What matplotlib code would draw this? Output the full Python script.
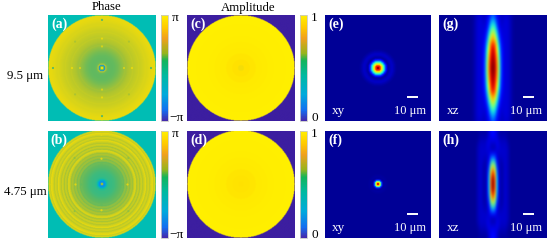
import numpy as np
import matplotlib
matplotlib.use('Agg')
import matplotlib.pyplot as plt
from matplotlib.cm import ScalarMappable
from matplotlib.colors import LinearSegmentedColormap, Normalize

W, H = 550, 242
plt.rcParams['font.family'] = ['Liberation Serif', 'DejaVu Serif']

# radial profiles of the phase masks (rad), one value per pixel of radius
PHASE_A = [2.9, 2.5, 0.3, -1.6, 1.6, 0.7, 0.45, 0.4, 0.4, 0.4, 0.4, 0.4, 0.42, 0.45, 0.5, 0.55, 0.6, 0.68,
           0.75, 0.82, 0.9, 0.98, 1.05, 1.2, 1.12, 1.2, 1.28, 1.35, 1.4, 1.45, 1.5, 1.65, 1.55, 1.6, 1.65, 1.7,
           1.72, 1.85, 1.78, 1.82, 1.88, 1.92, 1.98, 2.02, 2.1, 2.05, 2.1, 2.15, 2.2, 2.22, 2.28, 2.3, 2.32, 2.35, 2.35]
PHASE_B = [1.2, 1.0, -1.6, -1.5, -0.9, -0.3, -0.1, -0.05, 0.0, 0.0, 0.0, 0.05, 0.05, 0.1, 0.15, 0.2, 0.25, 0.3,
           0.35, 0.4, 0.5, 0.55, 0.45, 0.9, 1.0, 0.7, 1.1, 1.2, 0.85, 1.25, 1.35, 1.05, 1.6, 2.05, 2.1, 1.15, 1.6, 1.8,
           1.15, 1.8, 1.9, 1.35, 1.75, 2.0, 2.35, 1.45, 1.85, 2.0, 1.45, 1.95, 2.15, 2.4, 1.65, 2.05, 2.2]
PHASE_BG = -0.5

# amplitude masks, one value every 6 pixels of radius
AMP_C = [0.9, 0.93, 0.95, 0.97, 0.98, 0.985, 0.99, 0.99, 0.995, 1.0]
AMP_D = [0.93, 0.94, 0.95, 0.97, 0.98, 0.985, 0.99, 0.99, 0.995, 1.0]
AMP_BG = 0.0

# spots on the axes and diagonals of the phase masks: radius, value
SPOT_R_A = [49, 30, 22, 38]
SPOT_V_A = [0.3, 2.3, 2.0, 1.3]
SPOT_R_B = [50, 26, 20, 38]
SPOT_V_B = [2.2, 2.2, 0.4, 1.0]
SPOT_ANG_A = [[0, 90, 180, 270], [0, 90, 180, 270], [0, 90, 180, 270], [45, 135, 225, 315]]
SPOT_ANG_B = [[0, 90, 180, 270], [0, 90, 180, 270], [0, 90, 180, 270], [45, 135, 225, 315]]

# focal spots in the xy plane, one value per pixel of radius
XY_E = [1.0, 0.96, 0.88, 0.78, 0.66, 0.54, 0.42, 0.3, 0.19, 0.11, 0.05, 0.035, 0.045, 0.055, 0.06, 0.06, 0.05, 0.04, 0.03]
XY_F = [1.0, 0.85, 0.66, 0.4, 0.18, 0.06, 0.025, 0.03, 0.03, 0.025]
XY_BG_E = 0.02
XY_BG_F = 0.02

# focal spots in the xz plane: rows every 6 px along z, columns every 2 px along x
XZ_G = [[1.0, 0.95, 0.78, 0.5, 0.22, 0.11, 0.08, 0.08, 0.07, 0.05, 0.03, 0.02, 0.02],
        [0.98, 0.93, 0.76, 0.48, 0.22, 0.11, 0.08, 0.08, 0.07, 0.05, 0.03, 0.02, 0.02],
        [0.96, 0.9, 0.72, 0.44, 0.2, 0.11, 0.08, 0.08, 0.07, 0.05, 0.03, 0.02, 0.02],
        [0.93, 0.86, 0.66, 0.38, 0.18, 0.11, 0.08, 0.08, 0.07, 0.05, 0.03, 0.02, 0.02],
        [0.88, 0.8, 0.58, 0.32, 0.16, 0.1, 0.08, 0.08, 0.07, 0.05, 0.03, 0.02, 0.02],
        [0.72, 0.65, 0.44, 0.24, 0.13, 0.09, 0.08, 0.08, 0.07, 0.05, 0.03, 0.02, 0.02],
        [0.58, 0.5, 0.33, 0.17, 0.1, 0.08, 0.08, 0.08, 0.07, 0.05, 0.03, 0.02, 0.02],
        [0.42, 0.36, 0.22, 0.12, 0.08, 0.08, 0.08, 0.08, 0.07, 0.05, 0.03, 0.02, 0.02],
        [0.3, 0.25, 0.16, 0.1, 0.07, 0.07, 0.08, 0.08, 0.07, 0.05, 0.03, 0.02, 0.02],
        [0.2, 0.17, 0.12, 0.08, 0.06, 0.06, 0.07, 0.07, 0.06, 0.04, 0.03, 0.02, 0.02]]
XZ_H = [[1.0, 0.82, 0.32, 0.08, 0.04, 0.05, 0.07, 0.06, 0.04, 0.02, 0.02, 0.02, 0.02],
        [0.97, 0.8, 0.31, 0.08, 0.04, 0.05, 0.07, 0.06, 0.04, 0.02, 0.02, 0.02, 0.02],
        [0.85, 0.68, 0.26, 0.08, 0.04, 0.05, 0.07, 0.06, 0.04, 0.02, 0.02, 0.02, 0.02],
        [0.6, 0.48, 0.18, 0.07, 0.04, 0.05, 0.07, 0.06, 0.04, 0.02, 0.02, 0.02, 0.02],
        [0.33, 0.26, 0.11, 0.06, 0.05, 0.06, 0.07, 0.06, 0.04, 0.02, 0.02, 0.02, 0.02],
        [0.12, 0.11, 0.08, 0.07, 0.07, 0.07, 0.07, 0.06, 0.04, 0.02, 0.02, 0.02, 0.02],
        [0.04, 0.05, 0.08, 0.08, 0.07, 0.07, 0.07, 0.06, 0.04, 0.02, 0.02, 0.02, 0.02],
        [0.08, 0.08, 0.09, 0.08, 0.06, 0.06, 0.06, 0.05, 0.03, 0.02, 0.02, 0.02, 0.02],
        [0.12, 0.1, 0.08, 0.05, 0.04, 0.04, 0.04, 0.03, 0.02, 0.02, 0.02, 0.02, 0.02],
        [0.14, 0.11, 0.07, 0.04, 0.03, 0.03, 0.03, 0.03, 0.02, 0.02, 0.02, 0.02, 0.02]]

IMAGE_COLORS = [(0, '#3c1ea0'), (0.15, '#146ef0'), (0.3, '#00a5e1'), (0.42, '#00beb4'), (0.55, '#5ab964'),
                (0.7, '#aac332'), (0.85, '#e1d714'), (0.93, '#ffe100'), (1, '#fff000')]
BAR_COLORS = [(0, '#4628aa'), (0.1, '#146ef0'), (0.25, '#00aadc'), (0.43, '#00b9a0'), (0.57, '#14b45a'),
              (0.64, '#96b41e'), (0.78, '#f0a01e'), (0.88, '#ffc800'), (1, '#fff000')]
image_cmap = LinearSegmentedColormap.from_list('mask', IMAGE_COLORS)
bar_cmap = LinearSegmentedColormap.from_list('bar', BAR_COLORS)
phase_norm = Normalize(-np.pi, np.pi)
amp_norm = Normalize(0, 1)
xy_norm = Normalize(0, 1)


# axes from reference pixels, y measured from the top
def pixel_axes(fig, x0, y0, x1, y1):
    ax = fig.add_axes([x0 / W, 1 - y1 / H, (x1 - x0) / W, (y1 - y0) / H])
    ax.set_xticks([])
    ax.set_yticks([])
    for spine in ax.spines.values():
        spine.set_visible(False)
    return ax


def pixel_text(fig, x, y, s, **kwargs):
    kwargs.setdefault('ha', 'center')
    kwargs.setdefault('va', 'center')
    kwargs.setdefault('fontsize', 9.5)
    fig.text(x / W, 1 - y / H, s, **kwargs)


# rotate a radial profile around the centre, step is the pixels between values
def radial_image(profile, step, radius, background):
    axis = np.arange(-radius, radius + 0.5, 0.5)
    xx, yy = np.meshgrid(axis, axis)
    rr = np.hypot(xx, yy)
    idx = np.clip(np.round(rr / step).astype(int), 0, len(profile) - 1)
    img = np.array(profile)[idx]
    img[rr > len(profile) * step] = background
    return img


def mask_panel(fig, box, profile, step, background, cmap, norm, label):
    ax = pixel_axes(fig, *box)
    img = radial_image(profile, step, 54, background)
    img[np.hypot(*np.meshgrid(np.arange(-54, 54.5, 0.5), np.arange(-54, 54.5, 0.5))) > 54] = background
    ax.imshow(img, cmap=cmap, norm=norm, extent=[-54, 54, -54, 54], interpolation='bilinear', aspect='auto')
    ax.set_xlim(-54, 54)
    ax.set_ylim(-54, 54)
    ax.text(-51, 45, label, color='white', fontsize=10, fontweight='bold', ha='left', va='center')
    return ax


def color_bar(fig, box, norm, top_label, bottom_label):
    cax = pixel_axes(fig, *box)
    cb = fig.colorbar(ScalarMappable(norm=norm, cmap=bar_cmap), cax=cax)
    cb.set_ticks([])
    cb.outline.set_edgecolor('#c8c8c8')
    cb.outline.set_linewidth(0.6)
    pixel_text(fig, box[2] + 7, box[1] + 3, top_label)
    pixel_text(fig, box[2] + 8, box[3] - 3, bottom_label)


def focus_labels(ax, label, plane):
    ax.text(-51, 45, label, color='white', fontsize=10, fontweight='bold', ha='left', va='center')
    ax.text(-40, -44, plane, color='white', fontsize=9.5, ha='center', va='center')
    ax.text(33, -44, '10 \u03bcm', color='white', fontsize=9, ha='center', va='center')
    ax.plot([30, 41], [-30, -30], color='white', lw=1.4, solid_capstyle='butt')
    ax.set_xlim(-54, 54)
    ax.set_ylim(-54, 54)


def xy_panel(fig, box, profile, background, label):
    ax = pixel_axes(fig, *box)
    img = radial_image(profile, 1, 54, background)
    ax.imshow(img, cmap='jet', norm=xy_norm, extent=[-54, 54, -54, 54], interpolation='bilinear', aspect='auto')
    focus_labels(ax, label, 'xy')


def xz_panel(fig, box, matrix, label):
    ax = pixel_axes(fig, *box)
    quarter = np.array(matrix)
    half = np.hstack([quarter[:, :0:-1], quarter])
    full = np.vstack([half[:0:-1], half])
    # columns span +-25 px with 2 px cells, rows span +-57 px with 6 px cells
    ax.set_facecolor(plt.get_cmap('jet')(0.02))
    ax.imshow(full, cmap='jet', norm=xy_norm, extent=[-25, 25, -57, 57], interpolation='bicubic', aspect='auto')
    focus_labels(ax, label, 'xz')


fig = plt.figure(figsize=(W / 100, H / 100), dpi=100)

ax_a = mask_panel(fig, (48, 15, 156, 121), PHASE_A, 1, PHASE_BG, image_cmap, phase_norm, '(a)')
ax_b = mask_panel(fig, (47.5, 131, 155.5, 238), PHASE_B, 1, PHASE_BG, image_cmap, phase_norm, '(b)')
for ax, radii, angles, values in [(ax_a, SPOT_R_A, SPOT_ANG_A, SPOT_V_A), (ax_b, SPOT_R_B, SPOT_ANG_B, SPOT_V_B)]:
    for r, ang, v in zip(radii, angles, values):
        t = np.deg2rad(ang)
        ax.scatter(r * np.cos(t), r * np.sin(t), c=[v] * len(ang), cmap=image_cmap, norm=phase_norm, s=2.5, linewidths=0)

mask_panel(fig, (187, 15, 295, 121), AMP_C, 6, AMP_BG, image_cmap, amp_norm, '(c)')
mask_panel(fig, (187, 131, 295, 238), AMP_D, 6, AMP_BG, image_cmap, amp_norm, '(d)')

color_bar(fig, (161, 15, 168, 121), phase_norm, '\u03c0', '\u2212\u03c0')
color_bar(fig, (160.5, 131, 168, 238), phase_norm, '\u03c0', '\u2212\u03c0')
color_bar(fig, (300, 15, 307, 121), amp_norm, '1', '0')
color_bar(fig, (300, 131, 307, 238), amp_norm, '1', '0')

xy_panel(fig, (325, 15, 431, 121), XY_E, XY_BG_E, '(e)')
xy_panel(fig, (325, 131, 431, 238), XY_F, XY_BG_F, '(f)')
xz_panel(fig, (439, 15, 547, 121), XZ_G, '(g)')
xz_panel(fig, (439, 131, 547, 238), XZ_H, '(h)')

pixel_text(fig, 107, 7, 'Phase', fontsize=9.2)
pixel_text(fig, 248, 8, 'Amplitude', fontsize=9.2)
pixel_text(fig, 25, 76, '9.5 \u03bcm', fontsize=9.3)
pixel_text(fig, 25, 192, '4.75 \u03bcm', fontsize=9.3)

fig.savefig('out.png', dpi=100)
